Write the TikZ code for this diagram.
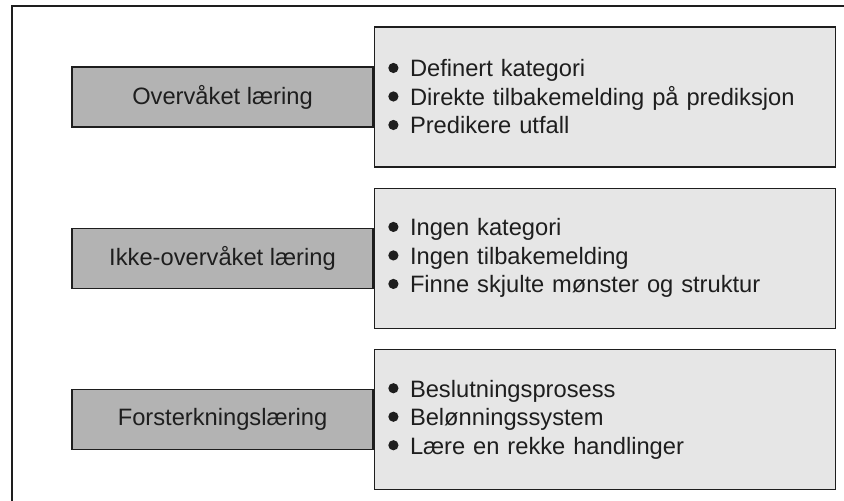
\documentclass[tikz,border=0pt]{standalone}
\usepackage{fontspec}
\setmainfont{Liberation Sans}
\usetikzlibrary{positioning}
\definecolor{darkgrey}{RGB}{179,179,179}
\definecolor{lightgrey}{RGB}{230,230,230}
\definecolor{inkgrey}{RGB}{30,30,30}
\newcommand{\dotmark}{\tikz[baseline=-9pt]\fill[inkgrey] (0pt,0pt) circle[radius=5.1pt];\hspace{11.5pt}}

\begin{document}
\begin{tikzpicture}[x=1pt, y=-1pt,
        every node/.style={
            font=\fontsize{23.7}{28.5}\selectfont,
            text=inkgrey
        },
        category/.style={
            draw=inkgrey, line width=1.3pt, fill=darkgrey,
            minimum width=301pt, minimum height=60pt, inner sep=0pt
        },
        points/.style={
            draw=inkgrey, line width=1.3pt, fill=lightgrey,
            minimum height=140pt, text width=433pt,
            inner xsep=14pt, inner ysep=0pt, align=left
        }
    ]
        \clip (0,0) rectangle (844,501);

        % Outer frame
        \draw[line width=2pt, draw=inkgrey] (12,6) rectangle (870,530);

        % Supervised learning
        \node[category] (ovl) at (222.5,97) {Overvåket læring};
        \node[points, right=0pt of ovl] (ovlList) {\dotmark Definert kategori\\\dotmark Direkte tilbakemelding på prediksjon\\\dotmark Predikere utfall};

        % Unsupervised learning
        \node[category, below=100pt of ovl] (ikke) {Ikke-overvåket læring};
        \node[points, right=0pt of ikke] (ikkeList) {\dotmark Ingen kategori\\\dotmark Ingen tilbakemelding\\\dotmark Finne skjulte mønster og struktur};

        % Reinforcement learning
        \node[category, below=100pt of ikke] (forst) {Forsterkningslæring};
        \node[points, right=0pt of forst] (forstList) {\dotmark Beslutningsprosess\\\dotmark Belønningssystem\\\dotmark Lære en rekke handlinger};
    \end{tikzpicture}
\end{document}
